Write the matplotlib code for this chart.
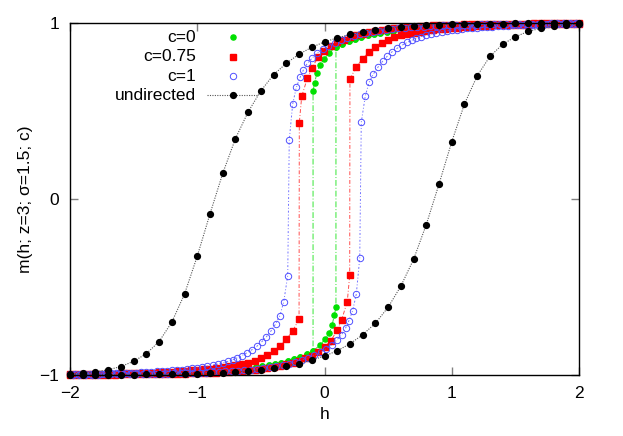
import matplotlib
matplotlib.use("Agg")
import matplotlib.pyplot as plt

plt.rcParams['font.family'] = ['Liberation Sans', 'DejaVu Sans']
plt.rcParams['font.size'] = 12.5

# ---- data ----
# undirected: both branches on a 0.1 grid
h_und = [-2.0, -1.9, -1.8, -1.7, -1.6, -1.5, -1.4, -1.3, -1.2, -1.1, -1.0,
         -0.9, -0.8, -0.7, -0.6, -0.5, -0.4, -0.3, -0.2, -0.1, 0.0,
         0.1, 0.2, 0.3, 0.4, 0.5, 0.6, 0.7, 0.8, 0.9, 1.0,
         1.1, 1.2, 1.3, 1.4, 1.5, 1.6, 1.7, 1.8, 1.9, 2.0]
m_und_up = [-0.993, -0.99, -0.982, -0.97, -0.952, -0.922, -0.879, -0.81, -0.70, -0.54, -0.325,
            -0.085, 0.145, 0.343, 0.495, 0.615, 0.706, 0.771, 0.823, 0.862, 0.893,
            0.915, 0.935, 0.95, 0.962, 0.971, 0.978, 0.983, 0.987, 0.99, 0.992,
            0.994, 0.995, 0.996, 0.997, 0.998, 0.998, 0.999, 0.999, 0.999, 0.999]
m_und_lo = [-0.999, -0.999, -0.999, -0.999, -0.998, -0.998, -0.997, -0.996, -0.995, -0.994, -0.992,
            -0.99, -0.987, -0.983, -0.978, -0.971, -0.962, -0.95, -0.935, -0.915, -0.893,
            -0.862, -0.823, -0.771, -0.706, -0.615, -0.495, -0.343, -0.145, 0.085, 0.325,
            0.54, 0.70, 0.81, 0.879, 0.922, 0.952, 0.97, 0.982, 0.99, 0.993]

# c = 0 (green): sweep down (h from 2 to -2) and sweep up (h from -2 to 2)
h_c0_dn = [1.99, 1.94, 1.89, 1.84, 1.79, 1.74, 1.69, 1.64, 1.59, 1.54, 1.49, 1.44, 1.39, 1.34, 1.29,
           1.24, 1.19, 1.14, 1.09, 1.04, 0.99, 0.94, 0.89, 0.84, 0.79, 0.74, 0.69, 0.64, 0.59, 0.54,
           0.49, 0.44, 0.39, 0.34, 0.29, 0.24, 0.19, 0.14, 0.09,
           0.035, -0.004, -0.038, -0.059, -0.077, -0.09,
           -0.09, -0.14, -0.19, -0.24, -0.29, -0.34, -0.39, -0.44, -0.49, -0.54, -0.59, -0.64, -0.69,
           -0.74, -0.79, -0.84, -0.89, -0.94, -0.99, -1.04, -1.09, -1.14, -1.19, -1.24, -1.29, -1.34,
           -1.39, -1.44, -1.49, -1.54, -1.59, -1.64, -1.69, -1.74, -1.79, -1.84, -1.89, -1.94, -1.99]
m_c0_dn = [0.998, 0.998, 0.998, 0.997, 0.997, 0.997, 0.996, 0.996, 0.995, 0.995, 0.994, 0.994, 0.993, 0.992, 0.991,
           0.991, 0.99, 0.988, 0.987, 0.986, 0.984, 0.982, 0.98, 0.978, 0.975, 0.972, 0.969, 0.965, 0.961, 0.956,
           0.951, 0.945, 0.938, 0.93, 0.921, 0.91, 0.897, 0.882, 0.862,
           0.831, 0.795, 0.761, 0.718, 0.661, 0.615,
           -0.862, -0.882, -0.897, -0.91, -0.921, -0.93, -0.938, -0.945, -0.951, -0.956, -0.961, -0.965, -0.969,
           -0.972, -0.975, -0.978, -0.98, -0.982, -0.984, -0.986, -0.987, -0.988, -0.99, -0.991, -0.991, -0.992,
           -0.993, -0.994, -0.994, -0.995, -0.995, -0.996, -0.996, -0.997, -0.997, -0.997, -0.998, -0.998, -0.998]
h_c0_up = [-1.99, -1.94, -1.89, -1.84, -1.79, -1.74, -1.69, -1.64, -1.59, -1.54, -1.49, -1.44, -1.39, -1.34, -1.29,
           -1.24, -1.19, -1.14, -1.09, -1.04, -0.99, -0.94, -0.89, -0.84, -0.79, -0.74, -0.69, -0.64, -0.59, -0.54,
           -0.49, -0.44, -0.39, -0.34, -0.29, -0.24, -0.19, -0.14, -0.09,
           -0.035, 0.004, 0.038, 0.059, 0.077, 0.09,
           0.09, 0.14, 0.19, 0.24, 0.29, 0.34, 0.39, 0.44, 0.49, 0.54, 0.59, 0.64, 0.69,
           0.74, 0.79, 0.84, 0.89, 0.94, 0.99, 1.04, 1.09, 1.14, 1.19, 1.24, 1.29, 1.34,
           1.39, 1.44, 1.49, 1.54, 1.59, 1.64, 1.69, 1.74, 1.79, 1.84, 1.89, 1.94, 1.99]
m_c0_up = [-0.998, -0.998, -0.998, -0.997, -0.997, -0.997, -0.996, -0.996, -0.995, -0.995, -0.994, -0.994, -0.993, -0.992, -0.991,
           -0.991, -0.99, -0.988, -0.987, -0.986, -0.984, -0.982, -0.98, -0.978, -0.975, -0.972, -0.969, -0.965, -0.961, -0.956,
           -0.951, -0.945, -0.938, -0.93, -0.921, -0.91, -0.897, -0.882, -0.862,
           -0.831, -0.795, -0.761, -0.718, -0.661, -0.615,
           0.862, 0.882, 0.897, 0.91, 0.921, 0.93, 0.938, 0.945, 0.951, 0.956, 0.961, 0.965, 0.969,
           0.972, 0.975, 0.978, 0.98, 0.982, 0.984, 0.986, 0.987, 0.988, 0.99, 0.991, 0.991, 0.992,
           0.993, 0.994, 0.994, 0.995, 0.995, 0.996, 0.996, 0.997, 0.997, 0.997, 0.998, 0.998, 0.998]

# c = 0.75 (red)
h_c75_dn = [2.0, 1.95, 1.9, 1.85, 1.8, 1.75, 1.7, 1.65, 1.6, 1.55, 1.5, 1.45, 1.4, 1.35, 1.3, 1.25, 1.2, 1.15, 1.1, 1.05,
            1.0, 0.95, 0.9, 0.85, 0.8, 0.75, 0.7, 0.65, 0.6, 0.55, 0.5, 0.45, 0.4, 0.35, 0.3, 0.25, 0.2, 0.15, 0.1, 0.05,
            -0.004, -0.051, -0.098, -0.135, -0.179, -0.198,
            -0.2, -0.25, -0.3, -0.35, -0.4, -0.45, -0.5, -0.55, -0.6, -0.65, -0.7, -0.75, -0.8, -0.85, -0.9, -0.95,
            -1.0, -1.05, -1.1, -1.15, -1.2, -1.25, -1.3, -1.35, -1.4, -1.45, -1.5, -1.55, -1.6, -1.65, -1.7, -1.75,
            -1.8, -1.85, -1.9, -1.95, -2.0]
m_c75_dn = [0.999, 0.999, 0.999, 0.999, 0.998, 0.998, 0.998, 0.998, 0.997, 0.997, 0.997, 0.996, 0.996, 0.995, 0.995, 0.994, 0.994, 0.993, 0.992, 0.991,
            0.99, 0.989, 0.988, 0.986, 0.984, 0.982, 0.98, 0.977, 0.974, 0.97, 0.966, 0.961, 0.955, 0.948, 0.94, 0.931, 0.92, 0.906, 0.89, 0.869,
            0.839, 0.805, 0.746, 0.686, 0.583, 0.434,
            -0.682, -0.75, -0.798, -0.835, -0.863, -0.886, -0.904, -0.918, -0.929, -0.938, -0.945, -0.951, -0.956, -0.961, -0.965, -0.968,
            -0.971, -0.974, -0.977, -0.979, -0.981, -0.983, -0.984, -0.986, -0.987, -0.988, -0.989, -0.99, -0.991, -0.992, -0.993, -0.993,
            -0.994, -0.995, -0.995, -0.996, -0.996]
h_c75_up = [-2.0, -1.95, -1.9, -1.85, -1.8, -1.75, -1.7, -1.65, -1.6, -1.55, -1.5, -1.45, -1.4, -1.35, -1.3, -1.25, -1.2, -1.15, -1.1, -1.05,
            -1.0, -0.95, -0.9, -0.85, -0.8, -0.75, -0.7, -0.65, -0.6, -0.55, -0.5, -0.45, -0.4, -0.35, -0.3, -0.25, -0.2, -0.15, -0.1, -0.05,
            0.004, 0.051, 0.098, 0.135, 0.179, 0.198,
            0.2, 0.25, 0.3, 0.35, 0.4, 0.45, 0.5, 0.55, 0.6, 0.65, 0.7, 0.75, 0.8, 0.85, 0.9, 0.95,
            1.0, 1.05, 1.1, 1.15, 1.2, 1.25, 1.3, 1.35, 1.4, 1.45, 1.5, 1.55, 1.6, 1.65, 1.7, 1.75,
            1.8, 1.85, 1.9, 1.95, 2.0]
m_c75_up = [-0.999, -0.999, -0.999, -0.999, -0.998, -0.998, -0.998, -0.998, -0.997, -0.997, -0.997, -0.996, -0.996, -0.995, -0.995, -0.994, -0.994, -0.993, -0.992, -0.991,
            -0.99, -0.989, -0.988, -0.986, -0.984, -0.982, -0.98, -0.977, -0.974, -0.97, -0.966, -0.961, -0.955, -0.948, -0.94, -0.931, -0.92, -0.906, -0.89, -0.869,
            -0.839, -0.805, -0.746, -0.686, -0.583, -0.434,
            0.682, 0.75, 0.798, 0.835, 0.863, 0.886, 0.904, 0.918, 0.929, 0.938, 0.945, 0.951, 0.956, 0.961, 0.965, 0.968,
            0.971, 0.974, 0.977, 0.979, 0.981, 0.983, 0.984, 0.986, 0.987, 0.988, 0.989, 0.99, 0.991, 0.992, 0.993, 0.993,
            0.994, 0.995, 0.995, 0.996, 0.996]

# c = 1 (blue)
h_c1_dn = [1.98, 1.93, 1.88, 1.83, 1.78, 1.73, 1.68, 1.63, 1.58, 1.53, 1.48, 1.43, 1.38, 1.33, 1.28, 1.23, 1.18, 1.13, 1.08, 1.03,
           0.98, 0.93, 0.88, 0.83, 0.78, 0.73, 0.68, 0.63, 0.58, 0.53, 0.48, 0.43, 0.38, 0.33, 0.28, 0.23, 0.18, 0.13, 0.08, 0.03,
           -0.014, -0.061, -0.098, -0.135, -0.166, -0.192, -0.221, -0.25, -0.277,
           -0.289, -0.32, -0.35, -0.385, -0.42, -0.457, -0.495, -0.53, -0.57, -0.61,
           -0.65, -0.685, -0.72, -0.76, -0.8, -0.84, -0.88, -0.92, -0.96, -1.0,
           -1.04, -1.08, -1.12, -1.16, -1.2, -1.24, -1.28, -1.32, -1.36, -1.4,
           -1.44, -1.48, -1.52, -1.56, -1.6, -1.64, -1.68, -1.72, -1.76, -1.8,
           -1.84, -1.88, -1.92, -1.96, -2.0]
m_c1_dn = [0.999, 0.999, 0.998, 0.998, 0.998, 0.997, 0.997, 0.997, 0.996, 0.996, 0.995, 0.995, 0.994, 0.993, 0.993, 0.992, 0.991, 0.99, 0.989, 0.988,
           0.987, 0.986, 0.984, 0.982, 0.98, 0.978, 0.976, 0.973, 0.969, 0.965, 0.961, 0.956, 0.95, 0.943, 0.935, 0.926, 0.915, 0.902, 0.887, 0.869,
           0.85, 0.828, 0.80, 0.771, 0.733, 0.691, 0.635, 0.54, 0.335,
           -0.435, -0.583, -0.662, -0.711, -0.749, -0.783, -0.813, -0.836, -0.856, -0.874,
           -0.89, -0.902, -0.913, -0.923, -0.931, -0.938, -0.944, -0.95, -0.955, -0.959,
           -0.963, -0.966, -0.969, -0.972, -0.974, -0.976, -0.978, -0.98, -0.982, -0.983,
           -0.984, -0.986, -0.987, -0.988, -0.989, -0.99, -0.991, -0.991, -0.992, -0.993,
           -0.993, -0.994, -0.994, -0.995, -0.995]
h_c1_up = [-1.98, -1.93, -1.88, -1.83, -1.78, -1.73, -1.68, -1.63, -1.58, -1.53, -1.48, -1.43, -1.38, -1.33, -1.28, -1.23, -1.18, -1.13, -1.08, -1.03,
           -0.98, -0.93, -0.88, -0.83, -0.78, -0.73, -0.68, -0.63, -0.58, -0.53, -0.48, -0.43, -0.38, -0.33, -0.28, -0.23, -0.18, -0.13, -0.08, -0.03,
           0.014, 0.061, 0.098, 0.135, 0.166, 0.192, 0.221, 0.25, 0.277,
           0.289, 0.32, 0.35, 0.385, 0.42, 0.457, 0.495, 0.53, 0.57, 0.61,
           0.65, 0.685, 0.72, 0.76, 0.8, 0.84, 0.88, 0.92, 0.96, 1.0,
           1.04, 1.08, 1.12, 1.16, 1.2, 1.24, 1.28, 1.32, 1.36, 1.4,
           1.44, 1.48, 1.52, 1.56, 1.6, 1.64, 1.68, 1.72, 1.76, 1.8,
           1.84, 1.88, 1.92, 1.96, 2.0]
m_c1_up = [-0.999, -0.999, -0.998, -0.998, -0.998, -0.997, -0.997, -0.997, -0.996, -0.996, -0.995, -0.995, -0.994, -0.993, -0.993, -0.992, -0.991, -0.99, -0.989, -0.988,
           -0.987, -0.986, -0.984, -0.982, -0.98, -0.978, -0.976, -0.973, -0.969, -0.965, -0.961, -0.956, -0.95, -0.943, -0.935, -0.926, -0.915, -0.902, -0.887, -0.869,
           -0.85, -0.828, -0.80, -0.771, -0.733, -0.691, -0.635, -0.54, -0.335,
           0.435, 0.583, 0.662, 0.711, 0.749, 0.783, 0.813, 0.836, 0.856, 0.874,
           0.89, 0.902, 0.913, 0.923, 0.931, 0.938, 0.944, 0.95, 0.955, 0.959,
           0.963, 0.966, 0.969, 0.972, 0.974, 0.976, 0.978, 0.98, 0.982, 0.983,
           0.984, 0.986, 0.987, 0.988, 0.989, 0.99, 0.991, 0.991, 0.992, 0.993,
           0.993, 0.994, 0.994, 0.995, 0.995]

labels = ['c=0', 'c=0.75', 'c=1', 'undirected']

green = '#00e000'
red = '#ff0000'
blue = '#5050ff'
gray = '#555555'

fig = plt.figure(figsize=(6.23, 4.36), dpi=100)
ax = fig.add_axes([70/623, 1 - 375/436, 509/623, 352/436])

g_style = dict(color=green, lw=0.7, ls=(0, (6, 2, 1, 2)), alpha=0.8)
r_style = dict(color=red, lw=0.7, ls=(0, (4, 2, 1, 2)), alpha=0.7)
b_style = dict(color=blue, lw=0.7, ls=(0, (2, 2, 1, 2)), alpha=0.8)
u_style = dict(color=gray, lw=0.8, ls=(0, (1, 1.2)))
g_mark = dict(marker='o', color=green, ms=3.7, ls='none', clip_on=False)
r_mark = dict(marker='s', color=red, ms=3.8, ls='none', clip_on=False)
b_mark = dict(marker='o', mfc='none', mec=blue, ms=4.6, mew=0.7, ls='none', clip_on=False)
u_mark = dict(marker='o', color='black', ms=4.2, ls='none', clip_on=False)

for hh, mm in [(h_c0_dn, m_c0_dn), (h_c0_up, m_c0_up)]:
    ax.plot(hh, mm, **g_style)
    ax.plot(hh, mm, **g_mark)
for hh, mm in [(h_c75_dn, m_c75_dn), (h_c75_up, m_c75_up)]:
    ax.plot(hh, mm, **r_style)
    ax.plot(hh, mm, **r_mark)
for hh, mm in [(h_c1_dn, m_c1_dn), (h_c1_up, m_c1_up)]:
    ax.plot(hh, mm, **b_style)
    ax.plot(hh, mm, **b_mark)
for mm in [m_und_up, m_und_lo]:
    ax.plot(h_und, mm, **u_style)
    ax.plot(h_und, mm, **u_mark)

ax.set_xlim(-2, 2)
ax.set_ylim(-1, 1)
ax.set_xticks([-2, -1, 0, 1, 2])
ax.set_yticks([-1, 0, 1])
ax.tick_params(direction='in', length=6, width=1, color='#808080', top=True, right=True, pad=8)
for s in ax.spines.values():
    s.set_linewidth(1.0)
ax.set_xlabel('h', labelpad=4)
ax.set_ylabel('m(h; z=3; σ=1.5; c)', labelpad=4)

# gnuplot-style key: text right-aligned, sample to the right
rows = [0.9594, 0.9043, 0.8494, 0.7946]
tx, mx = 0.2475, 0.3197
marks = [g_mark, r_mark, b_mark, u_mark]
for lab, y, mk in zip(labels, rows, marks):
    ax.text(tx, y, lab, transform=ax.transAxes, ha='right', va='center')
    if lab == 'undirected':
        ax.plot([0.269, 0.369], [y, y], transform=ax.transAxes, **u_style)
    ax.plot([mx], [y], transform=ax.transAxes, **mk)

fig.savefig('out.png', dpi=100)
